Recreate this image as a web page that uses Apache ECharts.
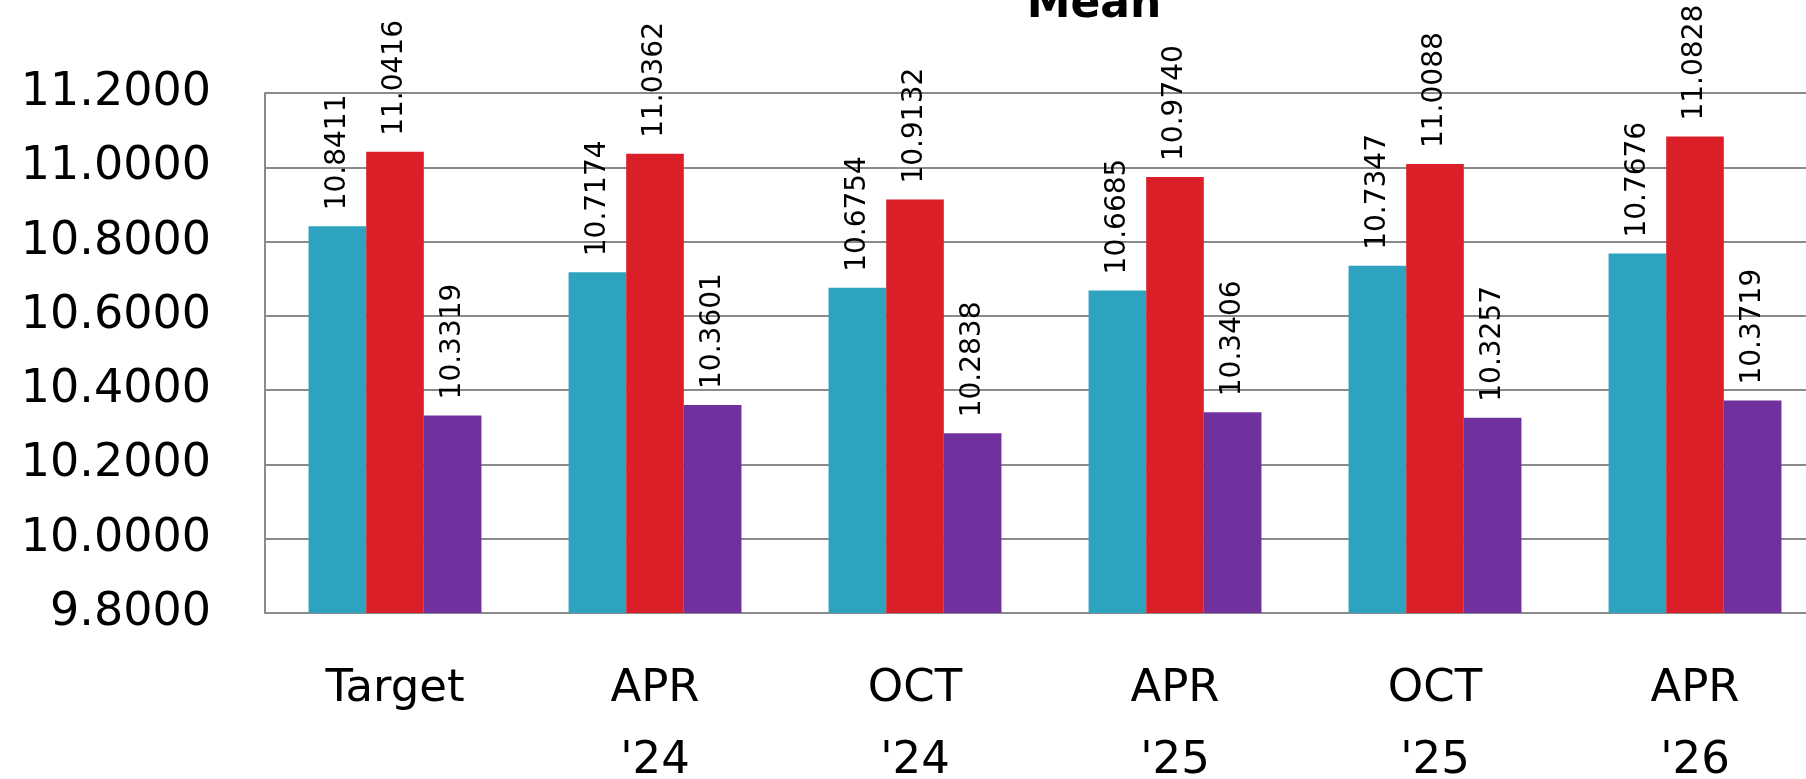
<!DOCTYPE html>
<html>
<head>
<meta charset="utf-8">
<script src="https://cdn.jsdelivr.net/npm/echarts@6/dist/echarts.min.js"></script>
<style>
html,body{margin:0;padding:0;background:#fff;}
#chart{width:1806px;height:779px;}
</style>
</head>
<body>
<div id="chart"></div>
<script>
var categories = ["Target", "APR\n'24", "OCT\n'24", "APR\n'25", "OCT\n'25", "APR\n'26"];
var seriesTeal = [10.8411, 10.7174, 10.6754, 10.6685, 10.7347, 10.7676];
var seriesRed = [11.0416, 11.0362, 10.9132, 10.9740, 11.0088, 11.0828];
var seriesPurple = [10.3319, 10.3601, 10.2838, 10.3406, 10.3257, 10.3719];
var yMin = 9.8, yMax = 11.2, yStep = 0.2;
var titleText = "Mean";

var FONT = "DejaVu Sans";
var chart = echarts.init(document.getElementById('chart'), null, {renderer: 'canvas'});

function makeSeries(name, data, color) {
  return {
    name: name,
    type: 'bar',
    data: data,
    barGap: '0%',
    barCategoryGap: '33.5%',
    itemStyle: {color: color},
    label: {
      show: true,
      position: 'top',
      rotate: 90,
      align: 'left',
      verticalAlign: 'middle',
      distance: 16,
      fontFamily: FONT,
      fontSize: 28,
      color: '#000',
      formatter: function (p) { return p.value.toFixed(4); }
    }
  };
}

chart.setOption({
  animation: false,
  backgroundColor: '#fff',
  title: {
    text: titleText,
    left: 1089,
    top: -21,
    textAlign: 'center',
    textStyle: {fontFamily: FONT, fontSize: 44, fontWeight: 'bold', color: '#000'}
  },
  grid: {left: 265, top: 93, width: 1560, height: 520, containLabel: false, outerBoundsMode: 'none'},
  xAxis: {
    type: 'category',
    data: categories,
    axisLine: {show: true, lineStyle: {color: '#8a8a8a', width: 2}},
    axisTick: {show: false},
    axisLabel: {
      fontFamily: FONT, fontSize: 45, color: '#000', lineHeight: 72, margin: 40,
      interval: 0
    },
    splitLine: {show: false}
  },
  yAxis: {
    type: 'value',
    min: yMin, max: yMax, interval: yStep,
    axisLine: {show: true, lineStyle: {color: '#8a8a8a', width: 2}},
    axisTick: {show: false},
    axisLabel: {
      fontFamily: FONT, fontSize: 46, color: '#000', margin: 54,
      formatter: function (v) { return v.toFixed(4); }
    },
    splitLine: {show: true, lineStyle: {color: '#8a8a8a', width: 2}}
  },
  series: [
    makeSeries('A', seriesTeal, '#2ea3bf'),
    makeSeries('B', seriesRed, '#da1f28'),
    makeSeries('C', seriesPurple, '#70309e')
  ]
});
</script>
</body>
</html>
